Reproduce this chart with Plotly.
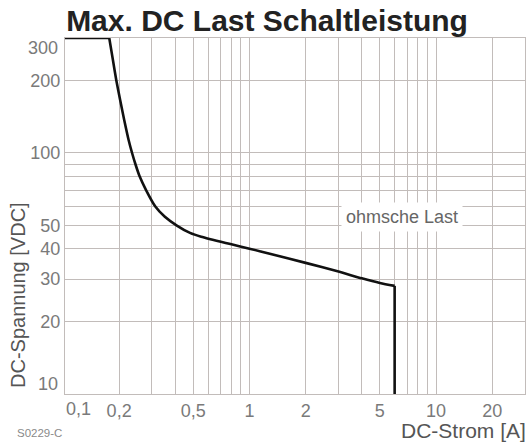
import math
import plotly.graph_objects as go

# ---- data ----
top_current = [0.1, 0.177]          # flat part at 300 V
top_voltage = [300, 300]
current_a = [0.177, 0.1852, 0.1932, 0.2025, 0.2129, 0.2248, 0.2346, 0.2444, 0.2575, 0.2792,
             0.3126, 0.3517, 0.4079, 0.4797, 0.5505, 0.8, 1.0, 1.3, 2.0, 3.0, 4.0, 5.0, 6.0]
voltage_v = [300, 243, 200, 166, 137, 113.2, 100, 90, 80, 70,
             60, 54.4, 50, 46.6, 44.9, 41.8, 40.1, 38.1, 35.0, 32.2, 30.2, 28.9, 28.1]
drop_current = [6.0, 6.0]           # vertical limit at 6 A
drop_voltage = [28.1, 9]

x_grid = [0.2, 0.3, 0.4, 0.5, 0.6, 0.7, 0.8, 0.9, 1, 2, 3, 4, 5, 6, 7, 8, 9, 10, 20]
x_text = ["0,2", "", "", "0,5", "", "", "", "", "1", "2", "", "", "5", "", "", "", "", "10", "20"]
y_grid = [20, 30, 40, 50, 60, 70, 80, 90, 100, 200]
y_text = ["20", "30", "40", "50", "", "", "", "", "100", "200"]

title = "Max. DC Last Schaltleistung"
x_title = "DC-Strom [A]"
y_title = "DC-Spannung [VDC]"
curve_label = "ohmsche Last"
code_label = "S0229-C"

FONT = "Liberation Sans, Arial, sans-serif"
GRID = "#c2bcba"
TICK = "#7a7a7a"
LINE = dict(color="#111111", width=2.6)

fig = go.Figure()
fig.add_trace(go.Scatter(x=top_current, y=top_voltage, mode="lines", line=LINE,
                         hoverinfo="skip", showlegend=False))
fig.add_trace(go.Scatter(x=current_a, y=voltage_v, mode="lines",
                         line=dict(LINE, shape="spline", smoothing=0.7),
                         hoverinfo="skip", showlegend=False))
fig.add_trace(go.Scatter(x=drop_current, y=drop_voltage, mode="lines", line=LINE,
                         hoverinfo="skip", showlegend=False))

fig.update_layout(
    width=528, height=445,
    margin=dict(l=65, r=3, t=38, b=51, autoexpand=False),
    paper_bgcolor="white", plot_bgcolor="white",
    font=dict(family=FONT, color=TICK, size=18),
    title=dict(text="<b>" + title + "</b>", x=267 / 528, xanchor="center",
               y=1 - 20 / 445, yanchor="middle",
               font=dict(family=FONT, size=30, color="#222222")),
    showlegend=False,
)
fig.update_xaxes(type="log", range=[math.log10(0.1025), math.log10(30)],
                 tickvals=x_grid, ticktext=x_text, ticks="", automargin=False,
                 showgrid=True, gridcolor=GRID, gridwidth=1.3,
                 showline=True, linecolor=GRID, linewidth=1.3, mirror=True,
                 zeroline=False, tickfont=dict(size=18, color=TICK))
fig.update_yaxes(type="log", range=[1, math.log10(300)],
                 tickvals=y_grid, ticktext=y_text, ticks="", automargin=False,
                 showgrid=True, gridcolor=GRID, gridwidth=1.3,
                 showline=True, linecolor=GRID, linewidth=1.3, mirror=True,
                 zeroline=False, tickfont=dict(size=18, color=TICK))

ann = [
    # end labels shifted inward as in the reference
    dict(text="300", xref="paper", x=0, xshift=-5, xanchor="right",
         yref="y", y=math.log10(300), yanchor="top", yshift=2,
         showarrow=False, font=dict(size=18, color=TICK)),
    dict(text="10", xref="paper", x=0, xshift=-5, xanchor="right",
         yref="y", y=1, yanchor="bottom", yshift=-2,
         showarrow=False, font=dict(size=18, color=TICK)),
    dict(text="0,1", xref="paper", x=0, xshift=-1, xanchor="left",
         yref="paper", y=0, yanchor="top", yshift=-3,
         showarrow=False, font=dict(size=18, color=TICK)),
    dict(text=curve_label, xref="x", x=math.log10(6.6), yref="y", y=math.log10(54.3),
         showarrow=False, bgcolor="white", borderpad=4,
         font=dict(size=18, color="#666666")),
    dict(text=x_title, xref="paper", x=1, xshift=3, xanchor="right",
         yref="paper", y=0, yanchor="middle", yshift=-36,
         showarrow=False, font=dict(size=21, color="#555555")),
    dict(text=y_title, xref="paper", x=0, xshift=-47, xanchor="center",
         yref="paper", y=(394 - 295) / 356, yanchor="middle", textangle=-90,
         showarrow=False, font=dict(size=20, color="#555555")),
    dict(text=code_label, xref="paper", x=0, xshift=-50, xanchor="left",
         yref="paper", y=0, yanchor="middle", yshift=-39,
         showarrow=False, font=dict(size=11.5, color="#8a8a8a")),
]
fig.update_layout(annotations=ann)

fig.write_html("out.html", config={"displayModeBar": False},
               post_script="document.body.style.margin='0';")
